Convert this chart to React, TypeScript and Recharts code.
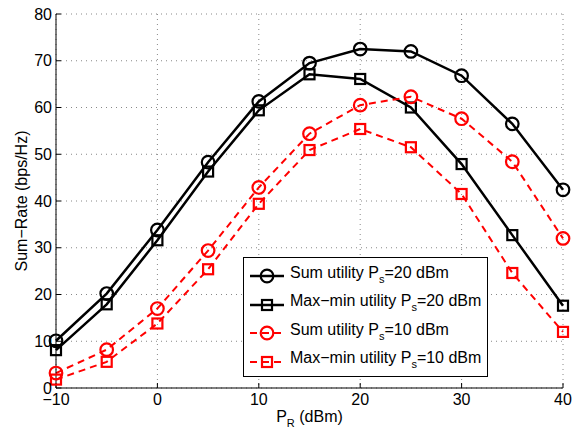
import { LineChart, Line, XAxis, YAxis, CartesianGrid, Legend } from 'recharts';

// P_R (dBm) on the x axis
const prDbm = [-10, -5, 0, 5, 10, 15, 20, 25, 30, 35, 40];

// sum-rate values (bps/Hz)
const sumUtil20 = [10.1, 20.2, 33.8, 48.3, 61.3, 69.5, 72.5, 72.0, 66.8, 56.5, 42.4];
const maxMin20 = [8.1, 17.9, 31.6, 46.3, 59.4, 67.1, 66.1, 60.0, 47.9, 32.7, 17.6];
const sumUtil10 = [3.2, 8.2, 17.0, 29.4, 42.9, 54.4, 60.5, 62.3, 57.6, 48.4, 32.0];
const maxMin10 = [1.8, 5.6, 13.8, 25.4, 39.4, 50.9, 55.4, 51.5, 41.5, 24.6, 12.0];

const xTicks = [-10, 0, 10, 20, 30, 40];
const yTicks = [0, 10, 20, 30, 40, 50, 60, 70, 80];

type Marker = 'circle' | 'square';
type Series = { key: string; label: string; ps: string; color: string; dashed: boolean; marker: Marker };

const series: Series[] = [
  { key: 'sum20', label: 'Sum utility P', ps: '=20 dBm', color: '#000000', dashed: false, marker: 'circle' },
  { key: 'mm20', label: 'Max\u2212min utility P', ps: '=20 dBm', color: '#000000', dashed: false, marker: 'square' },
  { key: 'sum10', label: 'Sum utility P', ps: '=10 dBm', color: '#ff0000', dashed: true, marker: 'circle' },
  { key: 'mm10', label: 'Max\u2212min utility P', ps: '=10 dBm', color: '#ff0000', dashed: true, marker: 'square' },
];

const data = prDbm.map((pr, i) => ({
  pr,
  sum20: sumUtil20[i],
  mm20: maxMin20[i],
  sum10: sumUtil10[i],
  mm10: maxMin10[i],
}));

const FONT = 'Liberation Sans, Arial, sans-serif';
const FS = 16;
const fmt = (v: number) => String(v).replace('-', '\u2212');

function drawMarker(shape: Marker, color: string, cx: number, cy: number, key?: number) {
  if (shape === 'circle') {
    return <circle key={key} cx={cx} cy={cy} r={6.3} fill="none" stroke={color} strokeWidth={2.2} />;
  }
  return <rect key={key} x={cx - 5} y={cy - 5} width={10} height={10} fill="none" stroke={color} strokeWidth={2.2} />;
}

const makeDot = (shape: Marker, color: string) => (props: any) => {
  const { cx, cy, index } = props;
  if (cx == null || cy == null) return <g key={index} />;
  return drawMarker(shape, color, cx, cy, index);
};

function LegendBox() {
  return (
    <div
      style={{
        width: 245,
        height: 120,
        border: '1px solid #000',
        background: '#fff',
        fontFamily: FONT,
        fontSize: FS,
        color: '#000',
        boxSizing: 'border-box',
        paddingTop: 4,
      }}
    >
      {series.map((s) => (
        <div key={s.key} style={{ display: 'flex', alignItems: 'center', height: 28.5, whiteSpace: 'nowrap' }}>
          <svg width={46} height={20} style={{ flex: 'none' }}>
            <line
              x1={6}
              x2={40}
              y1={10}
              y2={10}
              stroke={s.color}
              strokeWidth={s.dashed ? 2 : 2.5}
              strokeDasharray={s.dashed ? '7 5' : undefined}
            />
            {drawMarker(s.marker, s.color, 23, 10)}
          </svg>
          <span style={{ marginTop: -4 }}>
            {s.label}
            <sub style={{ fontSize: 11, verticalAlign: -5 }}>s</sub>
            {s.ps}
          </span>
        </div>
      ))}
    </div>
  );
}

function YLabel(props: any) {
  const { viewBox } = props;
  const cy = viewBox.y + viewBox.height / 2;
  return (
    <text
      x={21}
      y={cy}
      transform={`rotate(-90, 21, ${cy})`}
      textAnchor="middle"
      dominantBaseline="central"
      fontFamily={FONT}
      fontSize={FS}
      fill="#000"
    >
      Sum{'\u2212'}Rate (bps/Hz)
    </text>
  );
}

function XLabel(props: any) {
  const { viewBox } = props;
  const cx = viewBox.x + viewBox.width / 2;
  return (
    <text x={cx} y={422} textAnchor="middle" fontFamily={FONT} fontSize={FS} fill="#000">
      P
      <tspan fontSize={11} dy={5}>R</tspan>
      <tspan dy={-5}> (dBm)</tspan>
    </text>
  );
}

export default function App() {
  return (
    <div style={{ position: 'absolute', left: 0, top: 0, width: 578, height: 432, background: '#fff' }}>
      <LineChart
        width={578}
        height={432}
        data={data}
        margin={{ top: 14, right: 15, left: 0, bottom: 0 }}
      >
        <CartesianGrid stroke="#888" strokeDasharray="1 4" />
        <XAxis
          dataKey="pr"
          type="number"
          domain={[-10, 40]}
          ticks={xTicks}
          tickFormatter={fmt}
          height={44}
          stroke="#000"
          tickSize={-5}
          tickMargin={11}
          tick={{ fill: '#000', fontSize: FS, fontFamily: FONT }}
          label={<XLabel />}
        />
        <XAxis
          xAxisId="top"
          orientation="top"
          type="number"
          domain={[-10, 40]}
          ticks={xTicks}
          height={0}
          stroke="#000"
          tick={false}
          tickSize={-5}
        />
        <YAxis
          type="number"
          domain={[0, 80]}
          ticks={yTicks}
          width={56}
          stroke="#000"
          tickSize={-5}
          tickMargin={9}
          tick={{ fill: '#000', fontSize: FS, fontFamily: FONT }}
          label={<YLabel />}
        />
        <YAxis
          yAxisId="right"
          orientation="right"
          type="number"
          domain={[0, 80]}
          ticks={yTicks}
          width={0}
          stroke="#000"
          tick={false}
          tickSize={-5}
        />
        {series.map((s) => (
          <Line
            key={s.key}
            dataKey={s.key}
            type="linear"
            stroke={s.color}
            strokeWidth={s.dashed ? 2 : 2.5}
            strokeDasharray={s.dashed ? '7 5' : undefined}
            dot={makeDot(s.marker, s.color)}
            activeDot={false}
            isAnimationActive={false}
          />
        ))}
        <Legend
          layout="vertical"
          align="center"
          verticalAlign="middle"
          content={<LegendBox />}
          wrapperStyle={{ left: 243, top: 257, width: 245, height: 120 }}
        />
      </LineChart>
    </div>
  );
}
